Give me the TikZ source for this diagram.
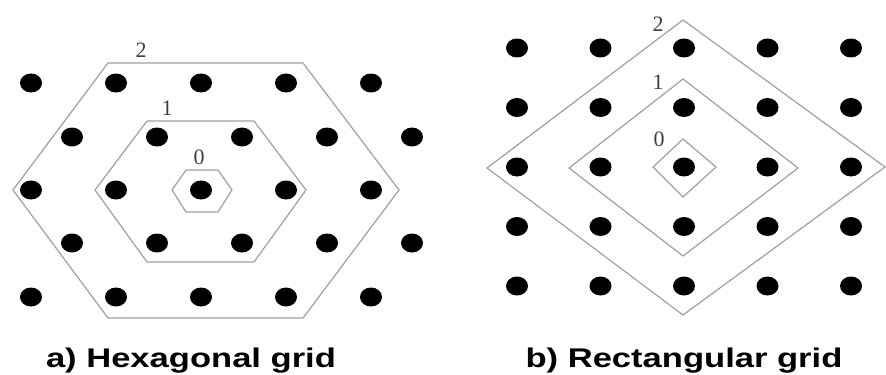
\documentclass[tikz,border=0pt]{standalone}
\usepackage{fontspec}
\setmainfont{Liberation Serif}
\newfontfamily\capfont{Liberation Sans}
\usetikzlibrary{shapes.geometric}

\begin{document}
\begin{tikzpicture}[
  x=0.5pt, y=-0.5pt,
  dot/.style={ellipse, fill=black, inner sep=0pt, minimum width=11pt, minimum height=9.5pt},
  ring/.style={draw=gray!75, line width=0.6pt, line join=miter},
  lvl/.style={font=\fontsize{11}{12}\selectfont, text=black!75, inner sep=0pt},
  gridcap/.style={font=\capfont\bfseries\fontsize{13.5}{15}\selectfont, xscale=1.28,
              transform shape, anchor=base, inner sep=0pt}
]
\useasboundingbox (0,0) rectangle (886,374);

%% --- Hexagonal grid (left) ---
\foreach \r/\y in {1/83, 3/190, 5/297}
  \foreach \c in {0,...,4}
    \node[dot] (h\r\c) at (31+85*\c, \y) {};
\foreach \r/\y in {2/137, 4/243}
  \foreach \c in {0,...,4}
    \node[dot] (h\r\c) at (72+85*\c, \y) {};

\draw[ring] (172,190) -- (186,170) -- (218,170) -- (232,190) -- (218,212) -- (186,212) -- cycle;
\draw[ring] (95,190) -- (147,121) -- (254,121) -- (306,190) -- (254,262) -- (147,262) -- cycle;
\draw[ring] (13,190) -- (108,63) -- (303,63) -- (399,190) -- (303,318) -- (108,318) -- cycle;

\node[lvl] (h0) at (199,157) {0};
\node[lvl] (h1) at (167,108) {1};
\node[lvl] (h2) at (141,50)  {2};

%% --- Rectangular grid (right) ---
\foreach \r in {0,...,4}
  \foreach \c in {0,...,4}
    \node[dot] (r\r\c) at (517+83.5*\c, 48+59.5*\r) {};

\draw[ring] (683,139) -- (716,167) -- (683,197) -- (653,167) -- cycle;
\draw[ring] (683,79) -- (798,168) -- (683,256) -- (569,168) -- cycle;
\draw[ring] (683,20) -- (885,167) -- (683,315) -- (487,168) -- cycle;

\node[lvl] (r0) at (659,139) {0};
\node[lvl] (r1) at (658,82)  {1};
\node[lvl] (r2) at (658,24)  {2};

%% --- Captions ---
\node[gridcap] (hcap) at (191,367) {a) Hexagonal grid};
\node[gridcap] (rcap) at (684,367) {b) Rectangular grid};

\end{tikzpicture}
\end{document}
